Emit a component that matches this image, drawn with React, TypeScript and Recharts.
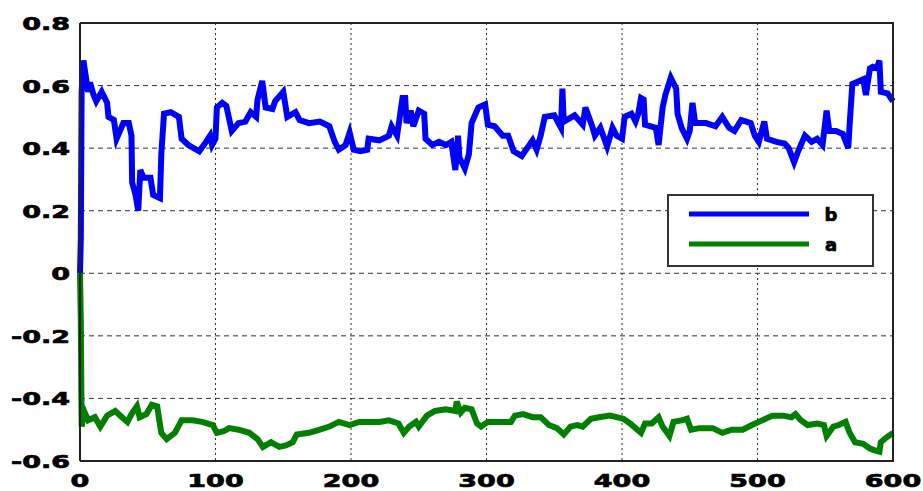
import React from "react";
import { LineChart, Line, XAxis, YAxis, CartesianGrid, Legend } from "recharts";

// series b (blue): sample positions and values
const bX = [0, 0.6, 1.2, 2.5, 6, 7.4, 10, 12, 16, 20, 21, 25, 27, 30, 32, 36, 38, 38.5, 41, 43, 44.5, 47, 52, 54, 59, 60, 62, 67, 73, 75, 80, 88, 93, 96, 97.5, 100, 101, 105, 108, 112, 117, 122, 126, 130, 131, 134.5, 137, 142, 144, 150, 153, 159, 162, 169, 177, 184, 188, 191, 196, 199, 202, 207, 212, 213, 221, 228, 230, 234, 238, 240, 241, 244, 246, 250, 254, 255, 260, 265, 270, 274, 277, 279, 280, 284, 287, 289, 294, 299, 301, 306, 312, 316, 320, 326, 330, 334, 337, 340, 343, 350, 355, 356, 357, 365, 371, 373, 378, 380, 384, 389, 393, 396, 400, 402, 407, 410, 412, 414, 416, 417, 425, 427, 430, 432, 436, 440, 441, 444, 448, 450, 452, 454, 462, 469, 474, 479, 483, 488, 495, 498, 501, 505, 507, 514, 520, 523, 527, 530, 535, 540, 544, 548, 551, 553, 558, 563, 567, 568, 570, 578, 580, 583, 585, 588, 590, 591, 596, 600];
const bY = [0, 0.11, 0.58, 0.68, 0.58, 0.61, 0.57, 0.55, 0.58, 0.545, 0.5, 0.49, 0.43, 0.46, 0.48, 0.48, 0.44, 0.29, 0.25, 0.2, 0.33, 0.305, 0.305, 0.25, 0.24, 0.38, 0.51, 0.515, 0.5, 0.43, 0.41, 0.39, 0.42, 0.44, 0.41, 0.43, 0.53, 0.545, 0.535, 0.455, 0.48, 0.485, 0.515, 0.5, 0.555, 0.615, 0.53, 0.525, 0.55, 0.58, 0.5, 0.515, 0.49, 0.48, 0.485, 0.47, 0.42, 0.395, 0.41, 0.45, 0.395, 0.39, 0.395, 0.43, 0.425, 0.44, 0.47, 0.44, 0.56, 0.56, 0.48, 0.52, 0.47, 0.52, 0.51, 0.43, 0.41, 0.42, 0.41, 0.42, 0.33, 0.44, 0.37, 0.335, 0.38, 0.48, 0.53, 0.54, 0.475, 0.47, 0.44, 0.44, 0.39, 0.375, 0.4, 0.425, 0.395, 0.44, 0.5, 0.505, 0.465, 0.59, 0.485, 0.505, 0.475, 0.53, 0.47, 0.44, 0.465, 0.405, 0.465, 0.44, 0.43, 0.5, 0.51, 0.485, 0.51, 0.56, 0.555, 0.475, 0.465, 0.41, 0.53, 0.57, 0.625, 0.59, 0.51, 0.465, 0.43, 0.455, 0.545, 0.48, 0.48, 0.47, 0.5, 0.465, 0.455, 0.49, 0.48, 0.44, 0.42, 0.485, 0.43, 0.42, 0.415, 0.4, 0.355, 0.39, 0.44, 0.42, 0.43, 0.41, 0.52, 0.455, 0.455, 0.445, 0.4, 0.475, 0.605, 0.62, 0.57, 0.655, 0.66, 0.655, 0.68, 0.58, 0.575, 0.55];

// series a (green)
const aX = [0, 0.6, 1.2, 3, 6, 11, 15, 20, 26, 31, 35, 38, 42, 44, 49, 53, 57, 58, 60, 64, 70, 75, 83, 90, 98, 101, 106, 110, 117, 125, 131, 135, 141, 147, 152, 157, 160, 169, 177, 184, 191, 199, 206, 213, 221, 228, 235, 239, 243, 248, 250, 256, 262, 270, 277, 278, 281, 284, 289, 293, 296, 301, 311, 318, 321, 327, 334, 340, 346, 352, 357, 362, 367, 371, 377, 383, 391, 396, 401, 406, 414, 417, 422, 427, 430, 435, 438, 444, 448, 451, 457, 467, 474, 481, 489, 496, 501, 506, 511, 519, 525, 528, 532, 537, 544, 549, 551, 556, 560, 565, 568, 572, 578, 583, 586, 590, 591, 595, 600];
const aY = [0, -0.15, -0.49, -0.44, -0.47, -0.46, -0.49, -0.455, -0.44, -0.46, -0.475, -0.45, -0.425, -0.46, -0.45, -0.42, -0.425, -0.455, -0.51, -0.53, -0.51, -0.47, -0.47, -0.475, -0.485, -0.51, -0.505, -0.495, -0.5, -0.51, -0.53, -0.555, -0.54, -0.555, -0.55, -0.54, -0.515, -0.51, -0.5, -0.49, -0.475, -0.485, -0.475, -0.475, -0.475, -0.47, -0.48, -0.51, -0.49, -0.475, -0.49, -0.455, -0.44, -0.435, -0.44, -0.41, -0.445, -0.43, -0.435, -0.48, -0.49, -0.475, -0.475, -0.475, -0.455, -0.45, -0.46, -0.46, -0.485, -0.495, -0.515, -0.49, -0.485, -0.49, -0.465, -0.46, -0.455, -0.46, -0.465, -0.48, -0.51, -0.48, -0.48, -0.46, -0.49, -0.52, -0.475, -0.47, -0.465, -0.5, -0.495, -0.495, -0.51, -0.5, -0.5, -0.485, -0.475, -0.465, -0.455, -0.455, -0.46, -0.45, -0.47, -0.485, -0.48, -0.485, -0.52, -0.49, -0.485, -0.475, -0.51, -0.54, -0.545, -0.56, -0.565, -0.57, -0.54, -0.525, -0.51];

const xTicks = [0, 100, 200, 300, 400, 500, 600];
const yTicks = [-0.6, -0.4, -0.2, 0, 0.2, 0.4, 0.6, 0.8];
const yTickLabels = ["-0.6", "-0.4", "-0.2", "0", "0.2", "0.4", "0.6", "0.8"];

const dataB = bX.map((x, i) => ({ x, v: bY[i] }));
const dataA = aX.map((x, i) => ({ x, v: aY[i] }));

const tickFont = {
  fontFamily: "'DejaVu Sans', sans-serif",
  fontWeight: 700,
  fontSize: 18,
  fill: "#000",
  stroke: "#000",
  strokeWidth: 0.7,
};

const frame = { stroke: "#222", strokeWidth: 2 };

const YTick = (props: any) => {
  const { y, payload } = props;
  const i = yTicks.indexOf(payload.value);
  return (
    <g transform={`translate(70,${y})`}>
      <text x={0} y={0} dy={7} textAnchor="end" transform="scale(1.5,1)" {...tickFont}>
        {yTickLabels[i]}
      </text>
    </g>
  );
};

const XTick = (props: any) => {
  const { x, payload } = props;
  return (
    <g transform={`translate(${x},487)`}>
      <text x={0} y={0} textAnchor="middle" transform="scale(1.5,1)" {...tickFont}>
        {payload.value}
      </text>
    </g>
  );
};

const LegendBox = () => (
  <svg width={207} height={73} style={{ display: "block" }}>
    <rect x={1} y={1} width={205} height={71} fill="#fff" stroke="#333" strokeWidth={2} />
    <line x1={22} x2={142} y1={20} y2={20} stroke="#0000ff" strokeWidth={5} />
    <line x1={22} x2={142} y1={50} y2={50} stroke="#008000" strokeWidth={5} />
    <text x={164} y={27} textAnchor="middle" {...tickFont}>b</text>
    <text x={164} y={57} textAnchor="middle" {...tickFont}>a</text>
  </svg>
);

export default function App() {
  return (
    <div style={{ position: "absolute", left: 0, top: 0, width: 923, height: 491, background: "#fff" }}>
      <LineChart width={923} height={491} margin={{ top: 23, right: 30, left: 0, bottom: 0 }}>
        <CartesianGrid horizontal={false} stroke="#333" strokeDasharray="2 3" />
        <CartesianGrid vertical={false} stroke="#333" strokeDasharray="5 4" />
        <XAxis
          type="number"
          dataKey="x"
          domain={[0, 600]}
          ticks={xTicks}
          height={30}
          tickLine={false}
          axisLine={frame}
          tick={<XTick />}
        />
        <YAxis
          type="number"
          domain={[-0.6, 0.8]}
          ticks={yTicks}
          width={80}
          tickLine={false}
          axisLine={frame}
          tick={<YTick />}
        />
        <Line data={dataB} dataKey="v" name="b" type="linear" stroke="#0000ff" strokeWidth={6} dot={false} isAnimationActive={false} />
        <Line data={dataA} dataKey="v" name="a" type="linear" stroke="#008000" strokeWidth={6} dot={false} isAnimationActive={false} />
        <Legend
          layout="vertical"
          align="center"
          verticalAlign="middle"
          content={<LegendBox />}
          wrapperStyle={{ position: "absolute", left: 667, top: 194, width: 207, height: 73 }}
        />
      </LineChart>
      {/* plot box: top and right edges */}
      <div
        style={{
          position: "absolute",
          left: 80,
          top: 22,
          width: 814,
          height: 440,
          borderTop: "2px solid #222",
          borderRight: "2px solid #222",
          boxSizing: "border-box",
          pointerEvents: "none",
          zIndex: 5,
        }}
      />
    </div>
  );
}
